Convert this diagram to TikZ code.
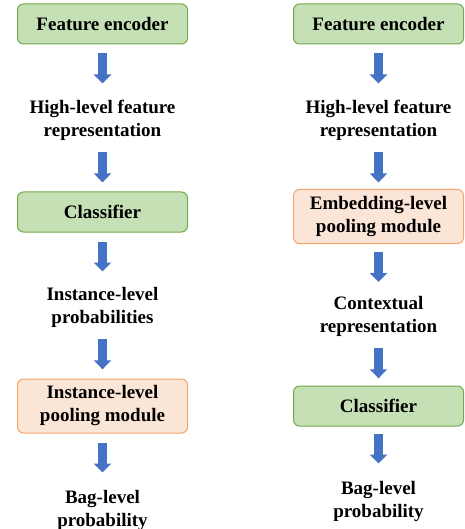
\documentclass[tikz,border=0pt]{standalone}
\usepackage{fontspec}
\setmainfont{Liberation Serif}[BoldFont={Liberation Serif Bold}]
\newfontfamily\boxfont{Liberation Serif Bold}
\usetikzlibrary{arrows.meta,calc}
\definecolor{gfill}{HTML}{C5E0B4}
\definecolor{gdraw}{HTML}{72A84E}
\definecolor{ofill}{HTML}{FBE5D6}
\definecolor{odraw}{HTML}{F4A46A}
\definecolor{ablue}{HTML}{4472C4}
\begin{document}
\begin{tikzpicture}[x=1pt,y=-1pt,
  every node/.style={font=\boxfont\fontsize{19}{23}\selectfont, align=center, inner sep=0pt},
  gbox/.style={draw=gdraw, fill=gfill, rounded corners=6pt, minimum width=170pt, minimum height=40pt, line width=1pt},
  obox/.style={draw=odraw, fill=ofill, rounded corners=6pt, minimum width=170pt, minimum height=54pt, line width=1pt},
  barrow/.style={draw=ablue, line width=9pt, -{Triangle[length=9pt,width=17pt]}}]
\useasboundingbox (0,0) rectangle (464,529);
% left column
\node[gbox] (l1) at (102.5,24) {Feature encoder};
\node (l2) at (102.5,120) {High-level feature\\representation};
\node[gbox] (l3) at (102.5,212) {Classifier};
\node (l4) at (102.5,307) {Instance-level\\probabilities};
\node[obox] (l5) at (102.5,406) {Instance-level\\pooling module};
\node (l6) at (102.5,510) {Bag-level\\probability};
% right column
\node[gbox] (r1) at (378.5,24) {Feature encoder};
\node (r2) at (378.5,120) {High-level feature\\representation};
\node[obox] (r3) at (378.5,216.5) {Embedding-level\\pooling module};
\node (r4) at (378.5,316) {Contextual\\representation};
\node[gbox] (r5) at (378.5,406) {Classifier};
\node (r6) at (378.5,501) {Bag-level\\probability};
% arrows
\draw[barrow] ($(l1.south)+(0,9)$) -- ++(0,30);
\draw[barrow] ($(l2.south)+(0,12)$) -- ++(0,30);
\draw[barrow] ($(l3.south)+(0,9)$) -- ++(0,30);
\draw[barrow] ($(l4.south)+(0,12)$) -- ++(0,30);
\draw[barrow] ($(l5.south)+(0,9)$) -- ++(0,30);
\draw[barrow] ($(r1.south)+(0,9)$) -- ++(0,30);
\draw[barrow] ($(r2.south)+(0,12)$) -- ++(0,30);
\draw[barrow] ($(r3.south)+(0,8)$) -- ++(0,30);
\draw[barrow] ($(r4.south)+(0,12)$) -- ++(0,30);
\draw[barrow] ($(r5.south)+(0,7)$) -- ++(0,30);
\end{tikzpicture}
\end{document}
